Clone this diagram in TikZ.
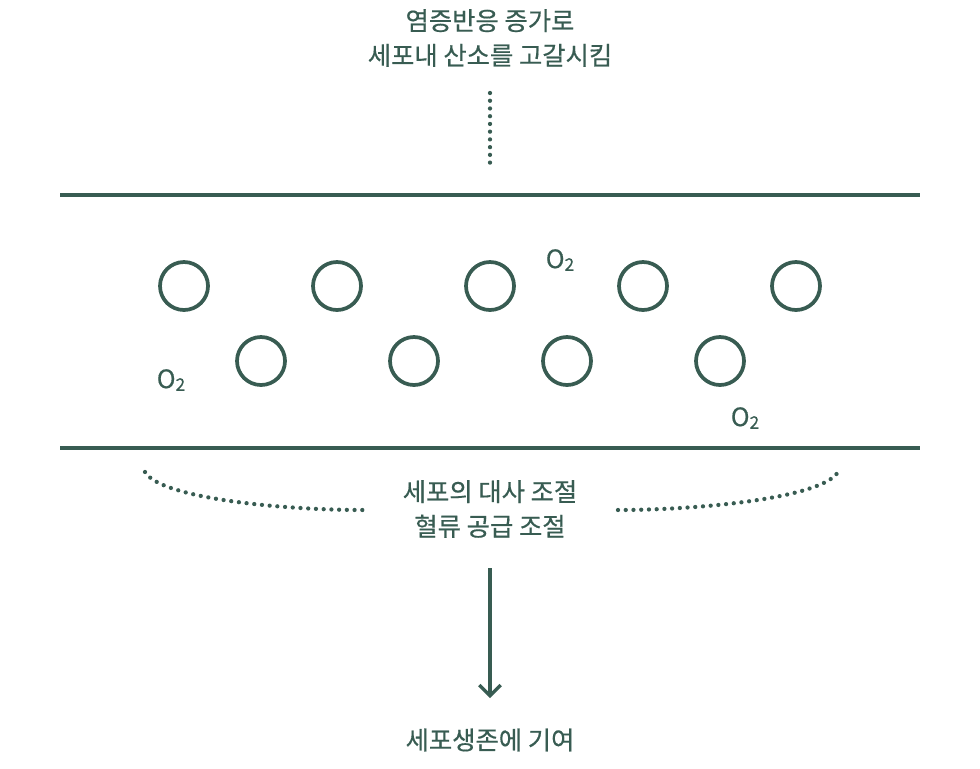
\documentclass[tikz,border=0pt]{standalone}
\usepackage{fontspec}
\setmainfont{Noto Sans CJK KR}[FakeBold=0.5]
\usepackage{tikz}
\usetikzlibrary{arrows.meta}
\definecolor{cellgreen}{RGB}{56,92,82}
\newcommand{\oxy}{O\raisebox{-2pt}{\fontsize{13}{13}\selectfont 2}}

\begin{document}
\begin{tikzpicture}[x=0.75pt,y=-0.75pt,
    every node/.style={text=cellgreen,font=\fontsize{19}{26}\selectfont},
    dots/.style={cellgreen,line width=3.2pt,line cap=round,dash pattern=on 0pt off 5.8pt},
    wall/.style={cellgreen,line width=3pt}]
    \useasboundingbox (0,0) rectangle (980,768);

    \node[align=center] (T) at (490,38) {염증반응 증가로\\세포내 산소를 고갈시킴};
    \node[align=center] (M) at (490,509) {세포의 대사 조절\\혈류 공급 조절};
    \node (S) at (490,740) {세포생존에 기여};

    \node (O1) at (560,260) {\oxy};
    \node (O2) at (171,380) {\oxy};
    \node (O3) at (745,418) {\oxy};

    \begin{scope}[every node/.style={circle,draw=cellgreen,line width=2.8pt,minimum size=36pt,inner sep=0pt}]
        \node (A) at (184,286) {};
        \node (B) at (337,286) {};
        \node (C) at (490,286) {};
        \node (D) at (643,286) {};
        \node (E) at (796,286) {};
        \node (F) at (261,361) {};
        \node (G) at (414,361) {};
        \node (H) at (567,361) {};
        \node (I) at (720,361) {};
    \end{scope}

    \draw [wall] (60,195) -- (920,195);
    \draw [wall] (60,448) -- (920,448);

    \coordinate (t1) at (490,93);
    \coordinate (t2) at (490,165);
    \coordinate (l1) at (145,472);
    \coordinate (l2) at (363,510);
    \coordinate (r1) at (618,510);
    \coordinate (r2) at (838,472);
    \coordinate (a1) at (490,568);
    \coordinate (a2) at (490,698);

    \begin{scope}
        \draw [dots] (t1) -- (t2);
        \draw [dots] (l1) .. controls (160,498) and (280,510) .. (l2);
        \draw [dots] (r1) .. controls (700,510) and (822,498) .. (r2);
        \draw [cellgreen,line width=2.4pt,-{Straight Barb[length=8pt,width=16pt]}] (a1) -- (a2);
    \end{scope}
\end{tikzpicture}
\end{document}
